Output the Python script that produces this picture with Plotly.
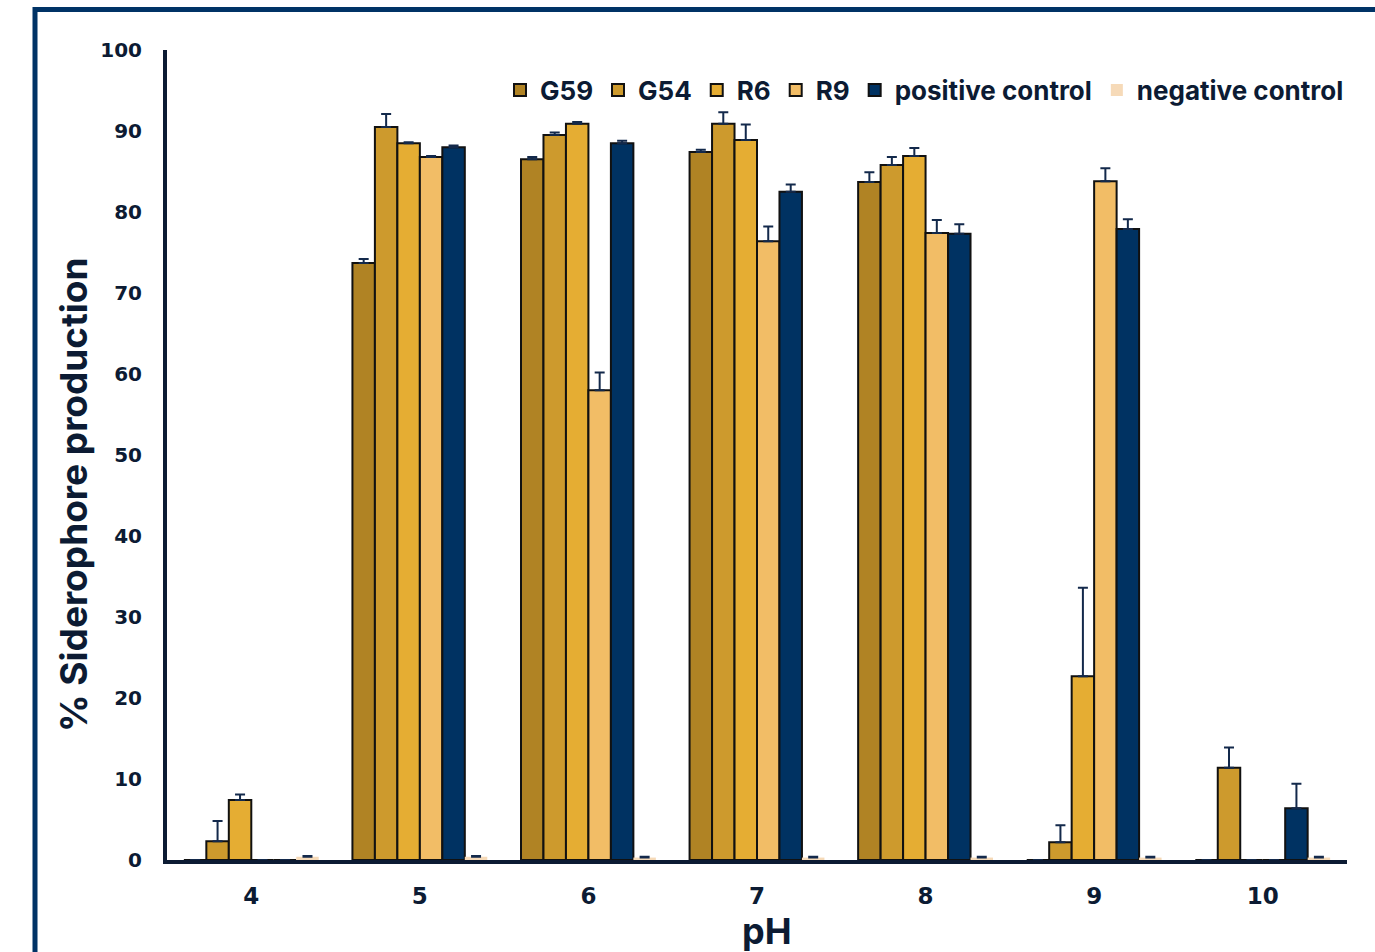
import plotly.graph_objects as go

ph = ["4", "5", "6", "7", "8", "9", "10"]

g59 = [0, 73.7, 86.5, 87.4, 83.7, 0, 0]
g59_err = [0, 0.5, 0.3, 0.3, 1.2, 0, 0]
g54 = [2.3, 90.5, 89.5, 90.9, 85.8, 2.2, 11.4]
g54_err = [2.5, 1.6, 0.3, 1.4, 1.0, 2.1, 2.5]
r6 = [7.4, 88.5, 90.9, 88.9, 86.9, 22.7, 0]
r6_err = [0.7, 0.1, 0.2, 1.9, 1.0, 10.9, 0]
r9 = [0, 86.8, 58.0, 76.4, 77.4, 83.8, 0]
r9_err = [0, 0.1, 2.2, 1.8, 1.6, 1.6, 0]
pos = [0, 88.0, 88.5, 82.5, 77.3, 77.9, 6.4]
pos_err = [0, 0.2, 0.3, 0.9, 1.2, 1.2, 3.0]
neg = [0.4, 0.4, 0.3, 0.3, 0.3, 0.3, 0.3]
neg_err = [0.1, 0.1, 0.1, 0.1, 0.1, 0.1, 0.1]

series = [
    ("G59", g59, g59_err, "#B08324", 2),
    ("G54", g54, g54_err, "#CD9A2D", 2),
    ("R6", r6, r6_err, "#E5AD33", 2),
    ("R9", r9, r9_err, "#F2BD66", 2),
    ("positive control", pos, pos_err, "#003262", 2),
    ("negative control", neg, neg_err, "#F6DAB8", 0),
]

DARK = "#0C1B33"
FONT = "Inter"
TICKFONT = "DejaVu Sans"

fig = go.Figure()
for name, vals, err, color, lw in series:
    fig.add_trace(go.Bar(
        x=ph, y=vals, name=name,
        marker=dict(color=color, line=dict(color="#111111", width=lw)),
        error_y=dict(type="data", array=err, arrayminus=[0] * len(err),
                     symmetric=False, color="#13294B", thickness=2, width=5),
    ))

W, H = 1375, 952
L, R, T, B = 167, 28, 50, 92
PW, PH = W - L - R, H - T - B


def px(x):
    return (x - L) / PW


def py(y):
    return (H - B - y) / PH


fig.update_layout(
    width=W, height=H,
    margin=dict(l=L, r=R, t=T, b=B),
    paper_bgcolor="white", plot_bgcolor="white",
    barmode="group", bargap=0.2, bargroupgap=0,
    font=dict(family=FONT, color=DARK),
    legend=dict(orientation="h", x=px(500), xanchor="left", y=py(90), yanchor="middle",
                font=dict(family=FONT, size=26, color=DARK, weight="bold"),
                itemwidth=30, tracegroupgap=0, bgcolor="rgba(0,0,0,0)"),
    xaxis=dict(
        range=[-0.5, 6.5], showgrid=False, zeroline=False, automargin=False,
        showline=True, linecolor=DARK, linewidth=4,
        ticks="", ticklabelstandoff=12,
        tickfont=dict(family=TICKFONT, size=23, color=DARK, weight="bold"),
    ),
    yaxis=dict(
        range=[0, 100], dtick=10, showgrid=False, zeroline=False, automargin=False,
        showline=True, linecolor=DARK, linewidth=4,
        ticks="", ticklabelstandoff=17,
        tickfont=dict(family=TICKFONT, size=20, color=DARK, weight="bold"),
    ),
    annotations=[
        dict(text="% Siderophore production", xref="paper", yref="paper",
             x=px(73), y=py(495), xanchor="center", yanchor="middle",
             textangle=-90, showarrow=False,
             font=dict(family=FONT, size=37, color=DARK, weight="bold")),
        dict(text="pH", xref="paper", yref="paper",
             x=px(767), y=py(931), xanchor="center", yanchor="middle",
             showarrow=False,
             font=dict(family=FONT, size=36, color=DARK, weight="bold")),
    ],
    shapes=[dict(type="rect", xref="paper", yref="paper",
                 x0=px(35), x1=px(1420),
                 y0=py(1010), y1=py(9.5),
                 line=dict(color="#003366", width=5), fillcolor="rgba(0,0,0,0)", layer="below")],
)

fig.write_html("out.html", config={"displayModeBar": False},
               post_script="document.body.style.margin='0';document.body.style.overflow='hidden';")
